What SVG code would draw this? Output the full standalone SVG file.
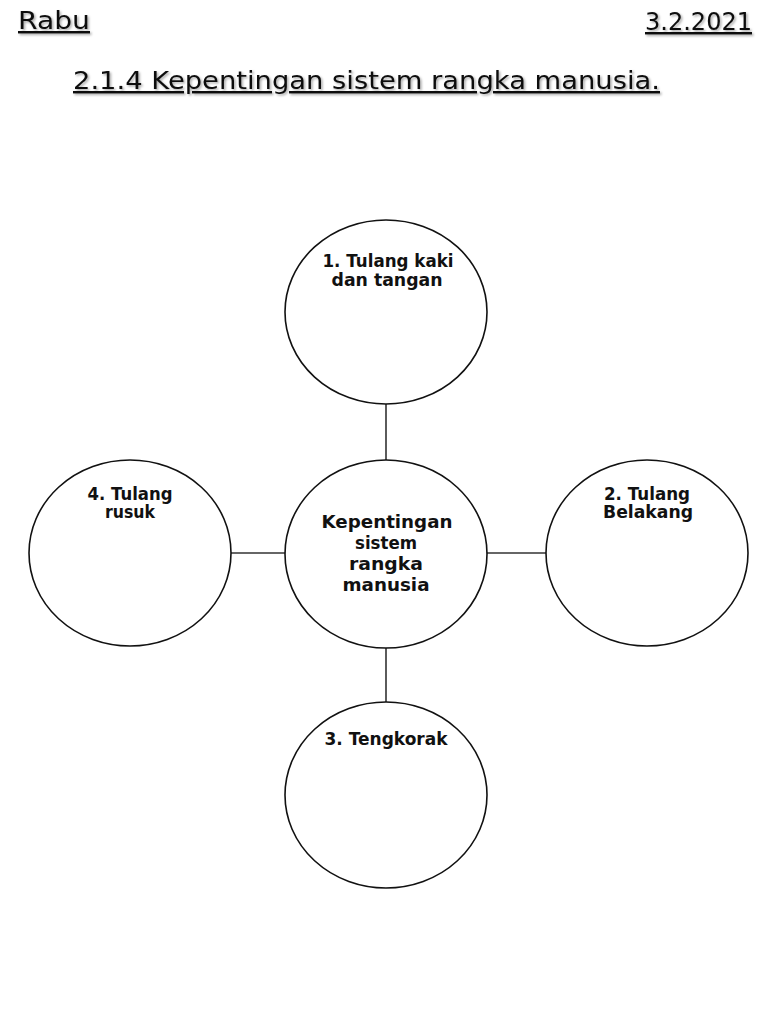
<svg xmlns="http://www.w3.org/2000/svg" width="768" height="1024" viewBox="0 0 768 1024">
<defs>
<filter id="sh" x="-5%" y="-20%" width="110%" height="160%">
<feDropShadow dx="1.5" dy="1.5" stdDeviation="1" flood-color="#000" flood-opacity="0.35"/>
</filter>
</defs>
<style>
.hd{font-family:"DejaVu Sans","Liberation Sans",sans-serif;font-size:24px;fill:#111;text-decoration:underline}
.node ellipse{fill:#fff;stroke:#111;stroke-width:1.6}
.lbl{font-family:"DejaVu Sans","Liberation Sans",sans-serif;font-weight:bold;fill:#111;text-anchor:middle}
.s16{font-size:17px}
.s18{font-size:18px}
.conn line{stroke:#333;stroke-width:1.6}
</style>
<rect width="768" height="1024" fill="#fff"/>
<g id="header" filter="url(#sh)">
<text class="hd" x="18" y="29" textLength="72" lengthAdjust="spacingAndGlyphs">Rabu</text>
<text class="hd" x="645" y="30" textLength="107" lengthAdjust="spacingAndGlyphs">3.2.2021</text>
<text class="hd" x="73" y="89" font-size="25" textLength="587" lengthAdjust="spacingAndGlyphs">2.1.4 Kepentingan sistem rangka manusia. </text>
</g>
<g class="conn" id="connectors">
<line x1="386" y1="404" x2="386" y2="460"/>
<line x1="386" y1="648" x2="386" y2="702"/>
<line x1="230" y1="553" x2="285" y2="553"/>
<line x1="487" y1="553" x2="547" y2="553"/>
</g>
<g class="node" id="center">
<ellipse cx="386" cy="554" rx="101" ry="94"/>
<text class="lbl s18" x="387" y="528" textLength="131" lengthAdjust="spacingAndGlyphs">Kepentingan</text>
<text class="lbl s18" x="386" y="549" textLength="62" lengthAdjust="spacingAndGlyphs">sistem</text>
<text class="lbl s18" x="386" y="570" textLength="74" lengthAdjust="spacingAndGlyphs">rangka</text>
<text class="lbl s18" x="386" y="591" textLength="87" lengthAdjust="spacingAndGlyphs">manusia</text>
</g>
<g class="node" id="n1">
<ellipse cx="386" cy="312" rx="101" ry="92"/>
<text class="lbl s16" x="388" y="267" textLength="131" lengthAdjust="spacingAndGlyphs">1. Tulang kaki</text>
<text class="lbl s16" x="387" y="286" textLength="111" lengthAdjust="spacingAndGlyphs">dan tangan</text>
</g>
<g class="node" id="n2">
<ellipse cx="647" cy="553" rx="101" ry="93"/>
<text class="lbl s16" x="647" y="500" textLength="86" lengthAdjust="spacingAndGlyphs">2. Tulang</text>
<text class="lbl s16" x="648" y="518" textLength="90" lengthAdjust="spacingAndGlyphs">Belakang</text>
</g>
<g class="node" id="n3">
<ellipse cx="386" cy="795" rx="101" ry="93"/>
<text class="lbl s16" x="386" y="745" textLength="123" lengthAdjust="spacingAndGlyphs">3. Tengkorak</text>
</g>
<g class="node" id="n4">
<ellipse cx="130" cy="553" rx="101" ry="93"/>
<text class="lbl s16" x="130" y="500" textLength="85" lengthAdjust="spacingAndGlyphs">4. Tulang</text>
<text class="lbl s16" x="130" y="518" textLength="50" lengthAdjust="spacingAndGlyphs">rusuk</text>
</g>
</svg>
